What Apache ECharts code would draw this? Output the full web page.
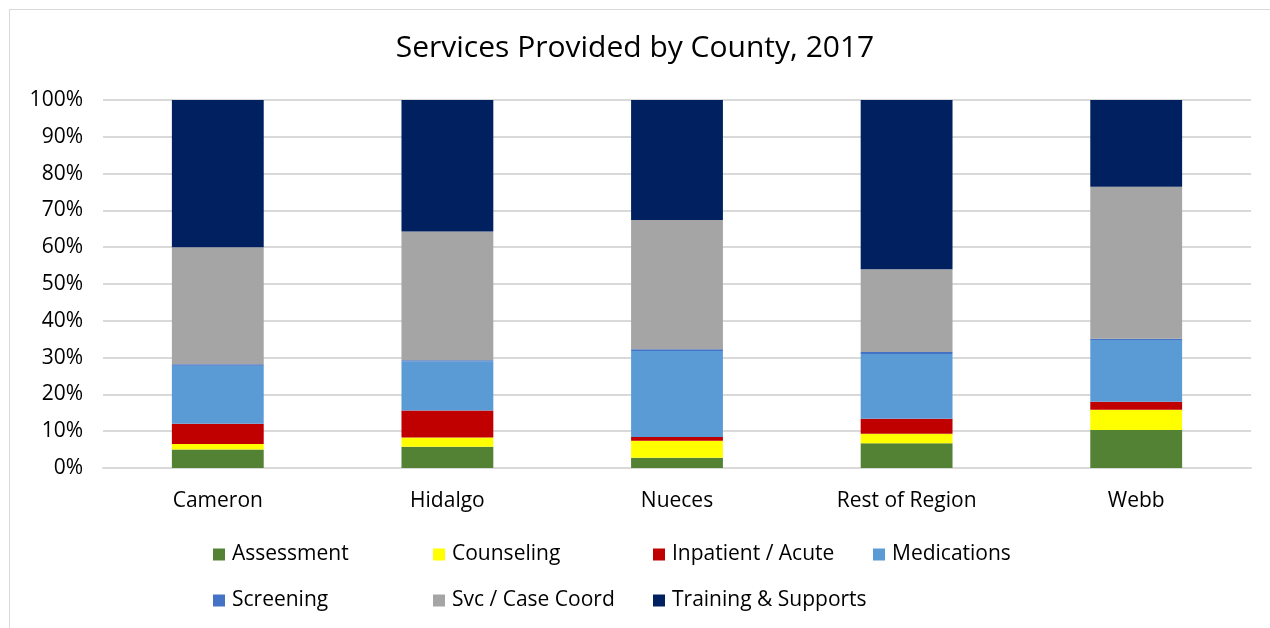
<!DOCTYPE html>
<html>
<head>
<meta charset="utf-8">
<script src="https://cdn.jsdelivr.net/npm/echarts@6/dist/echarts.min.js"></script>
<style>
  html, body { margin: 0; padding: 0; background: #fff; }
  #frame { position: absolute; left: 9px; top: 9px; width: 1270px; height: 640px; border: 1px solid #d9d9d9; box-sizing: border-box; }
  #chart { position: absolute; left: 0; top: 0; width: 1270px; height: 628px; }
</style>
</head>
<body>
<div id="frame"></div>
<div id="chart"></div>
<script>
// Share of services by county (percent of total), 2017
const counties = ['Cameron', 'Hidalgo', 'Nueces', 'Rest of Region', 'Webb'];
const assessment = [5.0, 5.8, 2.8, 6.7, 10.3];
const counseling = [1.5, 2.5, 4.6, 2.6, 5.5];
const inpatient = [5.5, 7.3, 1.0, 4.1, 2.2];
const medications = [15.8, 13.4, 23.4, 17.6, 16.8];
const screening = [0.4, 0.3, 0.5, 0.5, 0.3];
const caseCoord = [31.8, 35.0, 35.1, 22.5, 41.3];
const training = [40.0, 35.7, 32.6, 46.0, 23.6];
const yTicks = [0, 10, 20, 30, 40, 50, 60, 70, 80, 90, 100];

const seriesDefs = [
  { name: 'Assessment', data: assessment, color: '#548235' },
  { name: 'Counseling', data: counseling, color: '#FFFF00' },
  { name: 'Inpatient / Acute', data: inpatient, color: '#C00000' },
  { name: 'Medications', data: medications, color: '#5B9BD5' },
  { name: 'Screening', data: screening, color: '#4472C4' },
  { name: 'Svc / Case Coord', data: caseCoord, color: '#A5A5A5' },
  { name: 'Training & Supports', data: training, color: '#002060' }
];

const font = '"Open Sans", Lato, sans-serif';

// one legend entry per slot so the entries line up in fixed columns
const legendSlots = [
  [208, 539], [428, 539], [648, 539], [868, 539],
  [208, 585], [428, 585], [648, 585]
];
const legends = seriesDefs.map((s, i) => ({
  data: [s.name],
  left: legendSlots[i][0],
  top: legendSlots[i][1],
  icon: 'rect',
  itemWidth: 12,
  itemHeight: 12,
  itemGap: 0,
  textStyle: { fontFamily: font, fontSize: 21, color: '#000', padding: [0, 0, 0, 2] }
}));

const chart = echarts.init(document.getElementById('chart'));
chart.setOption({
  animation: false,
  title: {
    text: 'Services Provided by County, 2017',
    left: 'center',
    top: 28,
    textStyle: { fontFamily: font, fontSize: 30, fontWeight: 'normal', color: '#000' }
  },
  legend: legends,
  grid: { left: 103, right: 19, top: 100, bottom: 160, containLabel: false },
  xAxis: {
    type: 'category',
    data: counties,
    axisLine: { lineStyle: { color: '#d9d9d9', width: 2 } },
    axisTick: { show: false },
    axisLabel: { fontFamily: font, fontSize: 21, color: '#000', margin: 23 }
  },
  yAxis: {
    type: 'value',
    min: yTicks[0],
    max: yTicks[yTicks.length - 1],
    interval: 10,
    axisLine: { show: false },
    axisTick: { show: false },
    splitLine: { lineStyle: { color: '#d9d9d9', width: 2 } },
    axisLabel: { fontFamily: font, fontSize: 21, color: '#000', margin: 20, formatter: v => v + '%' }
  },
  series: seriesDefs.map(s => ({
    name: s.name,
    type: 'bar',
    stack: 'total',
    barWidth: '40%',
    data: s.data,
    itemStyle: { color: s.color }
  }))
});
</script>
</body>
</html>
